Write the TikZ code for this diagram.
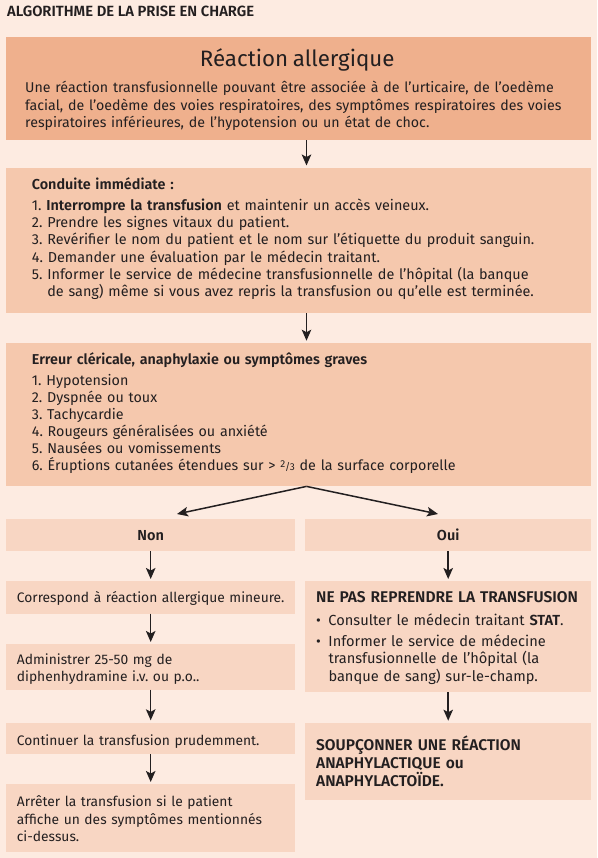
\documentclass[tikz,border=0pt]{standalone}
\usepackage{fontspec}
\setmainfont{Fira Sans}[BoldFont={Fira Sans SemiBold}]
\usetikzlibrary{arrows.meta}
\frenchspacing

\definecolor{fond}{HTML}{FDEBE1}
\definecolor{saumon}{HTML}{EFB08D}
\definecolor{peche}{HTML}{F5C8AD}
\definecolor{clair}{HTML}{F8D6C3}
\definecolor{encre}{HTML}{231F20}

\newcommand{\marge}[1]{\leftskip=#1\relax}
\newcommand{\puce}{\makebox[12.3pt][l]{\textbullet}}
\newcommand{\deuxtiers}{{\fontsize{10}{10}\selectfont\raisebox{2.8pt}{2}\kern-0.3pt/\kern-0.3pt3}}

\begin{document}
\begin{tikzpicture}[x=1pt, y=-1pt,
  boite/.style={anchor=north west, inner xsep=0pt, inner ysep=0pt,
    align=left, text=encre},
  large/.style={minimum width=585pt, text width=585pt},
  gauche/.style={minimum width=289pt, text width=289pt, fill=clair,
    font=\fontsize{13.8}{17.5}\selectfont},
  droite/.style={minimum width=286pt, text width=286pt, fill=clair,
    font=\fontsize{14.6}{17.5}\selectfont},
  fleche/.style={draw=encre, line width=1.5pt, shorten >=2pt,
    -{Stealth[length=11pt,width=9.5pt,inset=2.5pt]}}]

  % fond de page
  \fill[fond] (0,0) rectangle (597,858);
  \useasboundingbox (0,0) rectangle (597,858);

  \node[anchor=base west, inner sep=0pt, text=encre,
    font=\bfseries\fontsize{14.8}{16}\selectfont] (entete) at (7,16.7)
    {ALGORITHME DE LA PRISE EN CHARGE};

  % Reaction allergique
  \node[boite, large, fill=saumon, text height=29.4pt, text depth=73.3pt,
    font=\fontsize{14.2}{17.3}\selectfont] (reaction) at (6,37.3)
    {\marge{19pt}\makebox[544pt]{\fontsize{22.3}{24}\selectfont Réaction allergique}\\[8.7pt]
     Une réaction transfusionnelle pouvant être associée à de l'urticaire, de l'oedème\\
     facial, de l'oedème des voies respiratoires, des symptômes respiratoires des voies\\
     respiratoires inférieures, de l'hypotension ou un état de choc.\par};

  % Conduite immediate
  \node[boite, large, fill=peche, text height=21.5pt, text depth=123.7pt,
    font=\fontsize{14.4}{17.3}\selectfont] (conduite) at (6,167.5)
    {\marge{25.7pt}\textbf{Conduite immédiate :}\\[3.7pt]
     1. \textbf{Interrompre la transfusion} et maintenir un accès veineux.\\
     2. Prendre les signes vitaux du patient.\\
     3. Revérifier le nom du patient et le nom sur l'étiquette du produit sanguin.\\
     4. Demander une évaluation par le médecin traitant.\\
     5. Informer le service de médecine transfusionnelle de l'hôpital (la banque\\
     \phantom{5. }de sang) même si vous avez repris la transfusion ou qu'elle est terminée.\par};

  % Symptomes graves
  \node[boite, large, fill=peche, text height=21.6pt, text depth=121.7pt,
    font=\fontsize{14.3}{17.1}\selectfont] (erreur) at (6,342.7)
    {\marge{25.7pt}\textbf{Erreur cléricale, anaphylaxie ou symptômes graves}\\[3.6pt]
     1. Hypotension\\
     2. Dyspnée ou toux\\
     3. Tachycardie\\
     4. Rougeurs généralisées ou anxiété\\
     5. Nausées ou vomissements\\
     6. Éruptions cutanées étendues sur > \deuxtiers{} de la surface corporelle\par};

  % Non / Oui
  \node[boite, gauche, align=center, text height=21.7pt, text depth=10.7pt,
    font=\bfseries\fontsize{14.5}{17}\selectfont] (non) at (6,518.3) {Non};
  \node[boite, droite, align=center, text height=21.7pt, text depth=10.7pt,
    font=\bfseries\fontsize{14.5}{17}\selectfont] (oui) at (305,518.3) {Oui};

  % colonne de gauche
  \node[boite, gauche, text height=21.7pt, text depth=10.6pt] (mineure) at (6,581)
    {\marge{10.7pt}Correspond à réaction allergique mineure.\par};
  \node[boite, gauche, text height=20pt, text depth=25.3pt] (diphen) at (6,644)
    {\marge{10.7pt}Administrer 25-50 mg de\\ diphenhydramine i.v. ou p.o..\par};
  \node[boite, gauche, text height=22.7pt, text depth=9pt] (continuer) at (6,722.3)
    {\marge{10.7pt}Continuer la transfusion prudemment.\par};
  \node[boite, gauche, text height=22.7pt, text depth=45pt] (arreter) at (6,784)
    {\marge{10.7pt}Arrêter la transfusion si le patient\\
     affiche un des symptômes mentionnés\\ ci-dessus.\par};

  % colonne de droite
  \node[boite, droite, text height=21.7pt, text depth=89pt] (nepas) at (305,581)
    {\marge{11pt}\textbf{\fontsize{15.5}{17.5}\selectfont NE PAS REPRENDRE LA TRANSFUSION}\\[5.5pt]
     \puce Consulter le médecin traitant \textbf{STAT}.\\[2.8pt]
     \puce Informer le service de médecine\\
     \hspace*{12.3pt}transfusionnelle de l'hôpital (la\\
     \hspace*{12.3pt}banque de sang) sur-le-champ.\par};
  \node[boite, droite, text height=28pt, text depth=48.6pt,
    font=\bfseries\fontsize{15.5}{18}\selectfont] (anaphyl) at (305,722.7)
    {\marge{11pt}SOUPÇONNER UNE RÉACTION\\
     ANAPHYLACTIQUE ou\\
     ANAPHYLACTOÏDE.\par};

  % connecteurs
  \coordinate (axe) at (306.5,0);
  \coordinate (versnon) at (177,514);
  \coordinate (versoui) at (438,514);
  \draw[fleche] (reaction.south -| axe) -- (conduite.north -| axe);
  \draw[fleche] (conduite.south -| axe) -- (erreur.north -| axe);
  \draw[fleche, shorten >=0pt] (erreur.south -| axe) -- (versnon);
  \draw[fleche, shorten >=0pt] (erreur.south -| axe) -- (versoui);
  \draw[fleche] (non) -- (mineure);
  \draw[fleche] (mineure) -- (diphen);
  \draw[fleche] (diphen) -- (continuer);
  \draw[fleche] (continuer) -- (arreter);
  \draw[fleche] (oui) -- (nepas);
  \draw[fleche] (nepas) -- (anaphyl);
\end{tikzpicture}
\end{document}
